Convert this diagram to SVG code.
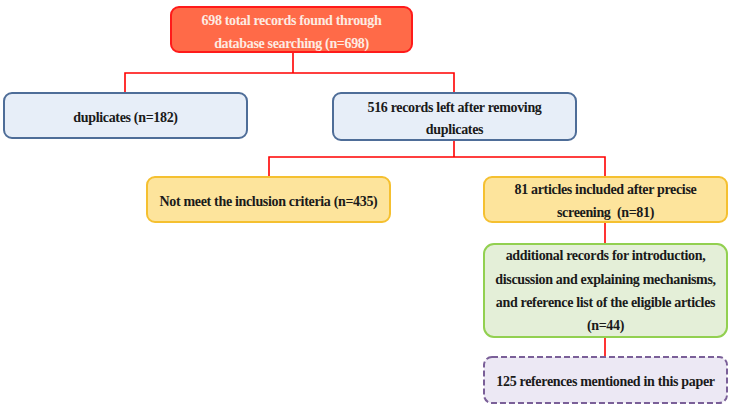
<svg xmlns="http://www.w3.org/2000/svg" width="734" height="407" viewBox="0 0 734 407">
<style>
text{font-family:"Liberation Serif","Times New Roman",serif;font-weight:bold;font-size:14px;letter-spacing:-0.33px;fill:#1a1a1a;text-anchor:middle}
.red rect{fill:#ff6a48;stroke:#ff1a1a;stroke-width:2}
.red text{fill:#fdebe2}
.blue rect{fill:#e7eef8;stroke:#4e6d98;stroke-width:2}
.yel rect{fill:#fde49c;stroke:#f5c030;stroke-width:2}
.grn rect{fill:#e4efd8;stroke:#92d050;stroke-width:2}
.pur rect{fill:#ece8f4;stroke:#7a5f98;stroke-width:2;stroke-dasharray:6 3}
#connectors path{fill:none;stroke:#ff0000;stroke-width:1.6}
</style>
<rect width="734" height="407" fill="#ffffff"/>
<g id="connectors">
<path d="M293 52V73M125 93V73H454V93"/>
<path d="M454 140V157M269 177V157H605V177"/>
<path d="M605 222V244"/>
<path d="M605 337V357"/>
</g>
<g id="n1" class="red"><rect x="171" y="7" width="241" height="45" rx="8"/><text x="291.5" y="25">698 total records found through</text><text x="291.5" y="48">database searching (n=698)</text></g>
<g id="n2" class="blue"><rect x="4" y="93" width="243" height="45" rx="8"/><text x="125.5" y="122">duplicates (n=182)</text></g>
<g id="n3" class="blue"><rect x="333" y="93" width="243" height="47" rx="8"/><text x="454.5" y="112">516 records left after removing</text><text x="454.5" y="134">duplicates</text></g>
<g id="n4" class="yel"><rect x="147" y="177" width="243" height="45" rx="8"/><text x="268.5" y="206">Not meet the inclusion criteria (n=435)</text></g>
<g id="n5" class="yel"><rect x="484" y="177" width="243" height="45" rx="8"/><text x="605.5" y="194">81 articles included after precise</text><text x="605.5" y="217" xml:space="preserve">screening  (n=81)</text></g>
<g id="n6" class="grn"><rect x="484" y="244" width="243" height="93" rx="10"/><text x="605.5" y="260">additional records for introduction,</text><text x="605.5" y="284">discussion and explaining mechanisms,</text><text x="605.5" y="307">and reference list of the eligible articles</text><text x="605.5" y="330">(n=44)</text></g>
<g id="n7" class="pur"><rect x="484" y="357" width="243" height="46" rx="8"/><text x="605.5" y="386">125 references mentioned in this paper</text></g>
</svg>
